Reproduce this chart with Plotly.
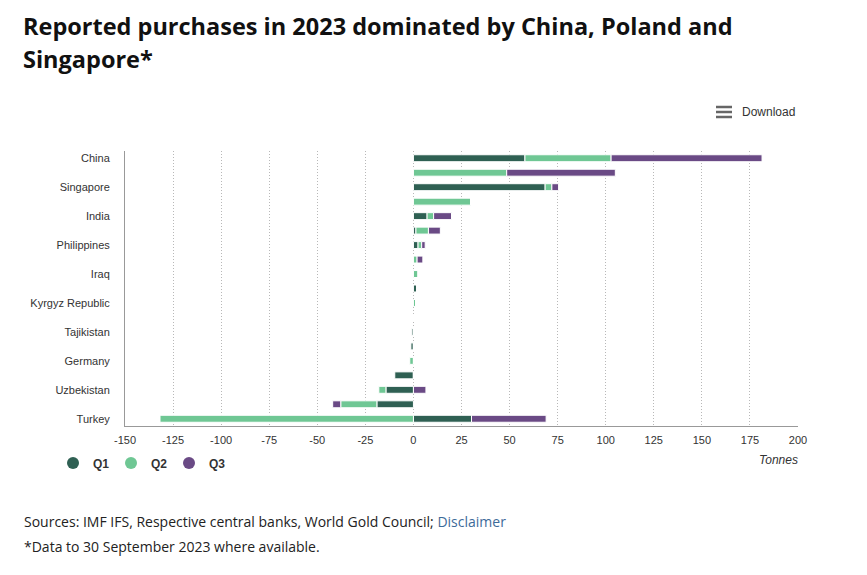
import plotly.graph_objects as go

countries = ["China", "Poland", "Singapore", "Libya", "India", "Czech Republic",
             "Philippines", "Qatar", "Iraq", "Serbia", "Kyrgyz Republic", "Cambodia",
             "Tajikistan", "Mongolia", "Germany", "Ecuador", "Uzbekistan",
             "Kazakhstan", "Turkey"]
q1 = [58.0, 0, 68.5, 0, 7.1, 1.3, 2.4, 0, 0, 1.8, 0, 0, -0.8, -1.3, 0, -9.7, -14.3, -19.0, 30.2]
q2 = [44.8, 48.5, 3.5, 29.7, 3.4, 6.5, 1.9, 1.9, 2.4, 0, 1.1, 0, 0, 0, -1.9, 0, -3.7, -18.8, -131.8]
q3 = [78.5, 56.5, 3.5, 0, 9.3, 6.2, 1.8, 3.0, 0, 0, 0, 0, 0, 0, 0, 0, 6.5, -4.2, 38.8]
labelled = ["China", "Singapore", "India", "Philippines", "Iraq", "Kyrgyz Republic",
            "Tajikistan", "Germany", "Uzbekistan", "Turkey"]
x_ticks = [-150, -125, -100, -75, -50, -25, 0, 25, 50, 75, 100, 125, 150, 175, 200]

series = [("Q1", q1, "#2f6053"), ("Q2", q2, "#6fc794"), ("Q3", q3, "#6a4a85")]

fig = go.Figure()
for name, vals, col in series:
    fig.add_trace(go.Bar(
        y=countries, x=vals, name=name, orientation="h",
        marker=dict(color=col, line=dict(color="white", width=1)),
        showlegend=False, legendgroup=name,
    ))
for name, vals, col in series:
    fig.add_trace(go.Scatter(
        x=[None], y=[None], mode="markers", name="<b>" + name + "</b>",
        marker=dict(color=col, size=12, symbol="circle"),
        legendgroup=name, showlegend=True,
    ))

L, R, T, B = 125, 798, 151, 426
W, H = 867, 575

def px(xp):
    return (xp - L) / (R - L)

def py(yp):
    return (B - yp) / (B - T)

fig.update_layout(
    width=W, height=H,
    margin=dict(l=L, r=W - R, t=T, b=H - B, pad=0),
    paper_bgcolor="white", plot_bgcolor="white",
    barmode="relative", bargap=0.52,
    font=dict(family="Liberation Sans, Arial, sans-serif", size=11, color="#333333"),
    xaxis=dict(
        range=[-150, 200], tickvals=x_ticks, ticktext=[str(v) for v in x_ticks],
        showgrid=True, gridcolor="#b8b8b8", griddash="1px,2px", gridwidth=1,
        zeroline=False, showline=True, linecolor="#999999", linewidth=1,
        ticks="", ticklabelstandoff=4, tickfont=dict(size=11, color="#333333"),
    ),
    yaxis=dict(
        type="category", categoryorder="array", categoryarray=countries,
        autorange="reversed", tickvals=labelled, ticktext=labelled,
        showgrid=False, zeroline=False, showline=True, linecolor="#999999",
        linewidth=1, ticks="", ticklabelstandoff=12,
        tickfont=dict(size=11, color="#333333"),
    ),
    legend=dict(
        orientation="h", x=px(53), y=py(463), xanchor="left", yanchor="middle",
        font=dict(family="Liberation Sans, Arial, sans-serif", size=12, color="#333333"),
        itemwidth=30, entrywidth=13, entrywidthmode="pixels",
        bgcolor="rgba(0,0,0,0)", tracegroupgap=0,
    ),
    showlegend=True,
)

annotations = [
    dict(text="<b>Reported purchases in 2023 dominated by China, Poland and</b>",
         x=px(21), y=py(26), xref="paper", yref="paper", xanchor="left", yanchor="middle",
         showarrow=False, font=dict(family="Open Sans, sans-serif", size=23.5, color="#111111")),
    dict(text="<b>Singapore*</b>",
         x=px(21), y=py(59), xref="paper", yref="paper", xanchor="left", yanchor="middle",
         showarrow=False, font=dict(family="Open Sans, sans-serif", size=23.5, color="#111111")),
    dict(text="Download", x=px(740), y=py(112), xref="paper", yref="paper",
         xanchor="left", yanchor="middle", showarrow=False,
         font=dict(family="Liberation Sans, Arial, sans-serif", size=12, color="#333333")),
    dict(text="<i>Tonnes</i>", x=px(800), y=py(460), xref="paper", yref="paper",
         xanchor="right", yanchor="middle", showarrow=False,
         font=dict(family="Liberation Sans, Arial, sans-serif", size=12, color="#333333")),
    dict(text="Sources: IMF IFS, Respective central banks, World Gold Council; "
              "<span style='color:#3d6a99'>Disclaimer</span>",
         x=px(22), y=py(521), xref="paper", yref="paper", xanchor="left", yanchor="middle",
         showarrow=False, font=dict(family="Open Sans, sans-serif", size=14, color="#222222")),
    dict(text="*Data to 30 September 2023 where available.",
         x=px(22), y=py(546), xref="paper", yref="paper", xanchor="left", yanchor="middle",
         showarrow=False, font=dict(family="Open Sans, sans-serif", size=14, color="#222222")),
]
fig.update_layout(annotations=annotations)

shapes = []
for yy in (107, 112, 117):
    shapes.append(dict(type="line", xref="paper", yref="paper",
                       x0=px(716), x1=px(732), y0=py(yy), y1=py(yy),
                       line=dict(color="#666666", width=2.5)))
fig.update_layout(shapes=shapes)

fig.write_html("out.html")
